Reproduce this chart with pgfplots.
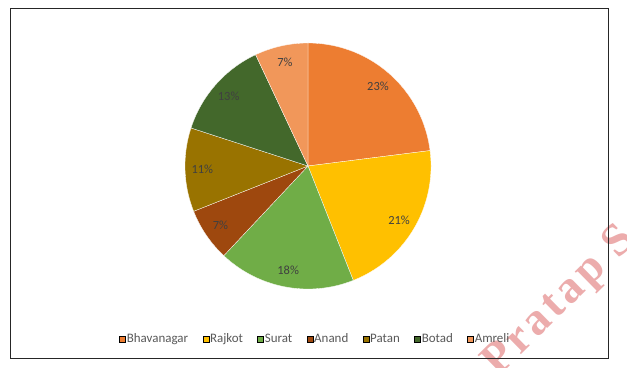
\documentclass[border=0pt]{standalone}
\usepackage{pgfplots}
\pgfplotsset{compat=1.18}
\usepackage{fontspec}
\setmainfont{Carlito}
\newfontfamily\wmfont{Liberation Serif}
\definecolor{cBhav}{HTML}{ED7D31}
\definecolor{cRaj}{HTML}{FFC000}
\definecolor{cSur}{HTML}{70AD47}
\definecolor{cAna}{HTML}{9E480E}
\definecolor{cPat}{HTML}{997300}
\definecolor{cBot}{HTML}{43682B}
\definecolor{cAmr}{HTML}{F1975A}
\definecolor{lblgray}{HTML}{404040}
\definecolor{leggray}{HTML}{595959}
\definecolor{wmred}{RGB}{236,172,172}
% slice: start share (%), share (%), colour
\newcommand{\slice}[3]{%
  \pgfmathsetmacro\sa{90-3.6*#1}%
  \pgfmathsetmacro\sb{90-3.6*(#1+#2)}%
  \pgfmathsetmacro\lx{0.86*cos(90-3.6*(#1+#2/2))}%
  \pgfmathsetmacro\ly{0.86*sin(90-3.6*(#1+#2/2))}%
  \addplot[fill=#3, draw=white, line width=0.3bp, domain=\sa:\sb, samples=80, variable=\t, forget plot]
    ({cos(\t)},{sin(\t)}) -- (axis cs:0,0) -- cycle;
  \edef\tmp{\noexpand\node[text=lblgray, font=\noexpand\fontsize{12.5}{14}\noexpand\selectfont] at (axis cs:\lx,\ly) {#2\noexpand\%};}%
  \tmp
}
\begin{document}
\begin{tikzpicture}[x=1bp,y=1bp]
\useasboundingbox (0,0) rectangle (627,367);
\fill[white] (0,0) rectangle (627,367);
\node[rotate=44.5, anchor=center, text=wmred, inner sep=0pt] at (560,65) {\wmfont\fontsize{46}{52}\selectfont\bfseries\addfontfeature{LetterSpace=8}Pratap S};
\begin{axis}[
  at={(308bp,201bp)}, anchor=center,
  scale only axis, width=246bp, height=246bp,
  xmin=-1, xmax=1, ymin=-1, ymax=1,
  hide axis, clip=false,
  legend columns=7,
  legend image code/.code={\fill[#1] (0bp,-3bp) rectangle (6bp,3bp);},
  legend style={draw=none, fill=none, at={(0.528,-0.203)}, anchor=center,
    font=\fontsize{13}{15}\selectfont, text=leggray,
    nodes={inner sep=1bp},
    /tikz/every even column/.append style={column sep=13.5bp}},
]
% data: Bhavanagar 23, Rajkot 21, Surat 18, Anand 7, Patan 11, Botad 13, Amreli 7
\slice{0}{23}{cBhav}
\slice{23}{21}{cRaj}
\slice{44}{18}{cSur}
\slice{62}{7}{cAna}
\slice{69}{11}{cPat}
\slice{80}{13}{cBot}
\slice{93}{7}{cAmr}
\addlegendimage{fill=cBhav}\addlegendentry{Bhavanagar}
\addlegendimage{fill=cRaj}\addlegendentry{Rajkot}
\addlegendimage{fill=cSur}\addlegendentry{Surat}
\addlegendimage{fill=cAna}\addlegendentry{Anand}
\addlegendimage{fill=cPat}\addlegendentry{Patan}
\addlegendimage{fill=cBot}\addlegendentry{Botad}
\addlegendimage{fill=cAmr}\addlegendentry{Amreli}
\end{axis}
\draw[black!85, line width=1bp] (10,9) rectangle (608,358);
\end{tikzpicture}
\end{document}
